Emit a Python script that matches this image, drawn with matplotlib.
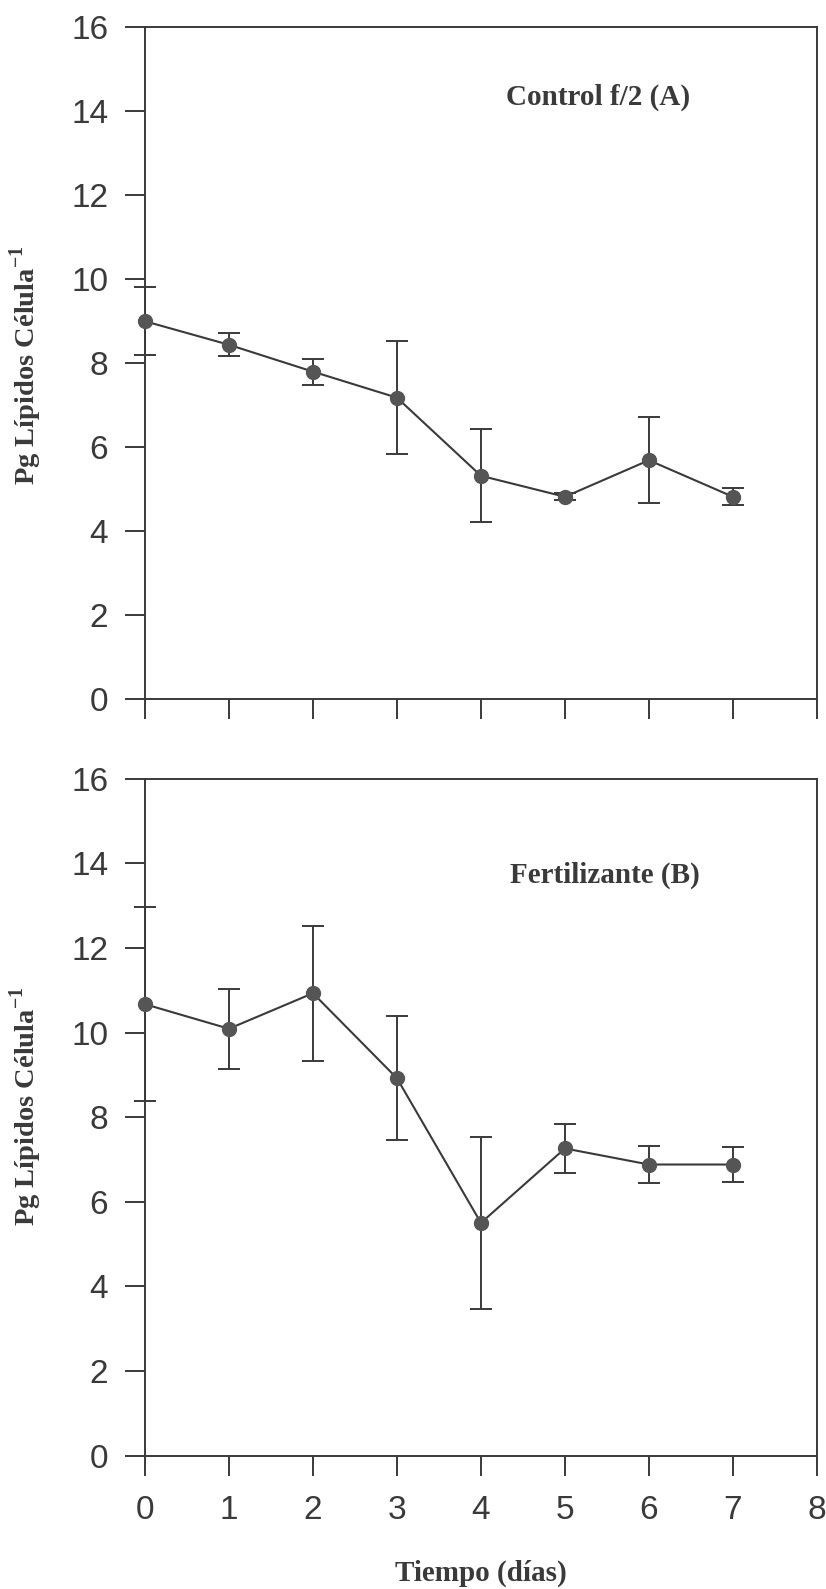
import matplotlib
matplotlib.use("Agg")
import matplotlib.pyplot as plt


dias = [0, 1, 2, 3, 4, 5, 6, 7]

control_media = [9.0, 8.44, 7.8, 7.18, 5.32, 4.82, 5.69, 4.82]
control_error = [0.81, 0.27, 0.31, 1.35, 1.11, 0.08, 1.02, 0.2]

fert_media = [10.67, 10.09, 10.93, 8.92, 5.5, 7.26, 6.88, 6.88]
fert_error = [2.3, 0.94, 1.6, 1.47, 2.04, 0.58, 0.43, 0.41]

x_ticks = [0, 1, 2, 3, 4, 5, 6, 7, 8]
y_ticks = [0, 2, 4, 6, 8, 10, 12, 14, 16]

ylabel = "Pg Lípidos Célula$^{\\mathregular{-1}}$"
xlabel = "Tiempo (días)"
titulos = ["Control f/2 (A)", "Fertilizante (B)"]

INK = "#3a3a3a"
SERIF = "Liberation Serif"
SANS = "Liberation Sans"


def panel(ax, media, error, titulo, titulo_pos, ylabel_y, show_xlabels):
	ax.errorbar(dias, media, yerr=error, color=INK, lw=1.5, elinewidth=1.4,
				capsize=8, capthick=1.4, marker="o", markersize=10,
				markerfacecolor="#555555", markeredgecolor="#555555",
				clip_on=False, zorder=3)
	ax.set_xlim(0, 8)
	ax.set_ylim(0, 16)
	ax.set_xticks(x_ticks)
	ax.set_yticks(y_ticks)
	for s in ax.spines.values():
		s.set_color(INK)
		s.set_linewidth(1.4)
	ax.tick_params(axis="both", direction="out", length=14.4, width=1.4, color=INK,
				   labelsize=24, labelcolor=INK)
	ax.tick_params(axis="y", pad=12)
	ax.tick_params(axis="x", pad=14)
	for lab in ax.get_yticklabels() + ax.get_xticklabels():
		lab.set_family(SANS)
	if not show_xlabels:
		ax.set_xticklabels([])
	ax.text(titulo_pos[0], titulo_pos[1], titulo, ha="center", va="center",
			fontsize=21, fontweight="bold", family=SERIF, color=INK)
	ax.set_ylabel(ylabel, fontsize=20.5, fontweight="bold", family=SERIF, color=INK)
	ax.yaxis.set_label_coords(-0.150, ylabel_y)


fig = plt.figure(figsize=(8.26, 15.89), dpi=100)
ax_a = fig.add_axes([0.1755, 0.560, 0.989 - 0.1755, 0.9828 - 0.560])
ax_b = fig.add_axes([0.1755, 0.084, 0.989 - 0.1755, 0.5099 - 0.084])

panel(ax_a, control_media, control_error, titulos[0], (5.39, 14.34), 0.497, False)
panel(ax_b, fert_media, fert_error, titulos[1], (5.47, 13.72), 0.516, True)

ax_b.set_xlabel(xlabel, fontsize=21, fontweight="bold", family=SERIF, color=INK, labelpad=24)

plt.savefig("out.png", dpi=100)
